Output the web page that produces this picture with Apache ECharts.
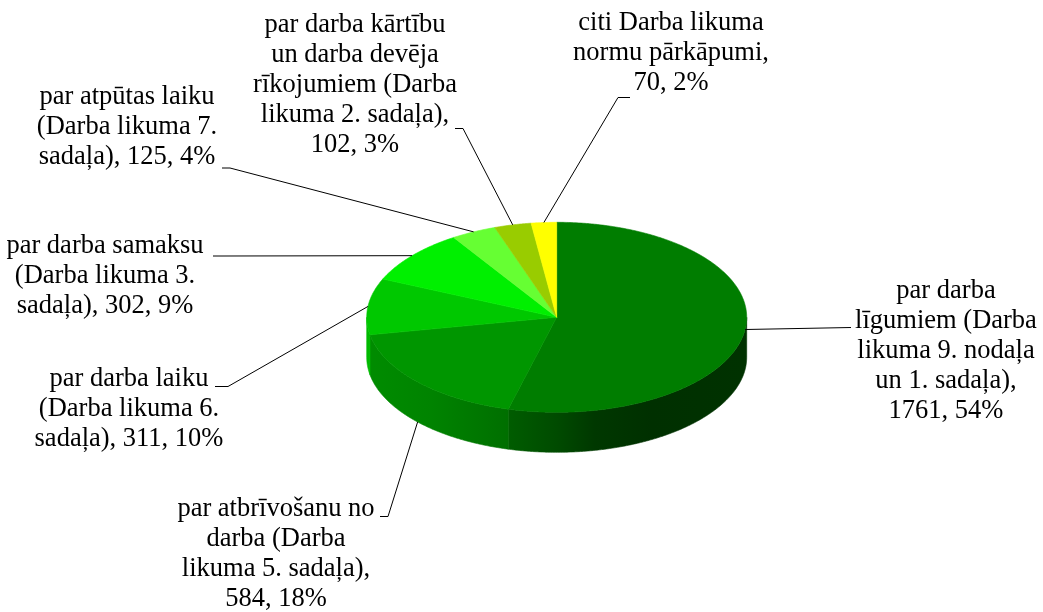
<!DOCTYPE html>
<html>
<head>
<meta charset="utf-8">
<script src="https://cdn.jsdelivr.net/npm/echarts@6/dist/echarts.min.js"></script>
<style>
html,body{margin:0;padding:0;background:#fff;}
#chart{width:1043px;height:612px;}
</style>
</head>
<body>
<div id="chart"></div>
<script>
// ---- data ----
const categories = [
  'par darba\nlīgumiem (Darba\nlikuma 9. nodaļa\nun 1. sadaļa)',
  'par atbrīvošanu no\ndarba (Darba\nlikuma 5. sadaļa)',
  'par darba laiku\n(Darba likuma 6.\nsadaļa)',
  'par darba samaksu\n(Darba likuma 3.\nsadaļa)',
  'par atpūtas laiku\n(Darba likuma 7.\nsadaļa)',
  'par darba kārtību\nun darba devēja\nrīkojumiem (Darba\nlikuma 2. sadaļa)',
  'citi Darba likuma\nnormu pārkāpumi'
];
const values = [1761, 584, 311, 302, 125, 102, 70];

// ---- styles / layout ----
const valueSeparators = [',\n', ',\n', ', ', ', ', ', ', ',\n', ',\n'];
const sliceColors = ['#007D00', '#009600', '#00C800', '#00F000', '#66FF33', '#99CC00', '#FFFF00'];
const PIE = { cx: 556.7, cy: 317.3, rx: 190, ry: 95, depth: 40 };
const labelBoxes = [[946, 276.5], [276, 494.5], [129, 364.5], [105, 231.5], [127, 82.5], [355, 10.5], [671, 8.5]]; // [centerX, topY]
const leaderEnds = [
  [[851, 327.5]],
  [[380, 516.5], [388, 516.5]],
  [[215, 386.5], [228, 386.5]],
  [[213, 256], [223, 256]],
  [[222, 168], [230, 168]],
  [[455, 128.5], [463, 128.5]],
  [[630, 97.5], [618, 97.5]]
];
const leaderAnchorOnBottom = [false, true, false, false, false, false, false];
const sideShade = [[0, 0.93], [0.17, 0.87], [0.37, 0.74], [0.5, 0.6], [0.6, 0.45], [0.75, 0.38], [1, 0.4]];
const LABEL_FONT = '26.5px "Liberation Serif", "Times New Roman", serif';

const total = values.reduce((a, b) => a + b, 0);
const starts = [];
(function () { let acc = 0; values.forEach(v => { starts.push(acc / total * 2 * Math.PI); acc += v; }); })();

function pt(t, dy) {
  return [PIE.cx + PIE.rx * Math.sin(t), PIE.cy - PIE.ry * Math.cos(t) + (dy || 0)];
}
function arc(a0, a1, dy) {
  const n = Math.max(2, Math.ceil((a1 - a0) / (Math.PI / 360)));
  const pts = [];
  for (let k = 0; k <= n; k++) pts.push(pt(a0 + (a1 - a0) * k / n, dy));
  return pts;
}
function hexToRgb(h) {
  return [parseInt(h.slice(1, 3), 16), parseInt(h.slice(3, 5), 16), parseInt(h.slice(5, 7), 16)];
}
function shade(h, f) {
  const c = hexToRgb(h).map(x => Math.max(0, Math.min(255, Math.round(x * f))));
  return 'rgb(' + c.join(',') + ')';
}

function renderItem(params, api) {
  const i = params.dataIndex;
  const v = api.value(0);
  const a0 = starts[i];
  const a1 = a0 + v / total * 2 * Math.PI;
  const base = sliceColors[i];
  const children = [];

  // side wall (front half only)
  const s0 = Math.max(a0, Math.PI / 2), s1 = Math.min(a1, 3 * Math.PI / 2);
  if (s1 > s0) {
    const grad = {
      type: 'linear', global: true,
      x: PIE.cx - PIE.rx, y: 0, x2: PIE.cx + PIE.rx, y2: 0,
      colorStops: sideShade.map(s => ({ offset: s[0], color: shade(base, s[1]) }))
    };
    const pts = arc(s0, s1, 0).concat(arc(s0, s1, PIE.depth).reverse());
    children.push({ type: 'polygon', z2: 1, shape: { points: pts }, style: { fill: grad, stroke: grad, lineWidth: 0.6 } });
  }

  // top face
  const topPts = [[PIE.cx, PIE.cy]].concat(arc(a0, a1, 0));
  children.push({ type: 'polygon', z2: 2, shape: { points: topPts }, style: { fill: base, stroke: base, lineWidth: 0.6, lineJoin: 'round' } });

  // leader line
  const mid = (a0 + a1) / 2;
  const anchor = pt(mid, leaderAnchorOnBottom[i] ? PIE.depth : 0);
  const linePts = leaderEnds[i].concat([anchor]);
  children.push({ type: 'polyline', z2: 5, shape: { points: linePts }, style: { stroke: '#000', lineWidth: 1, fill: null } });

  // label
  const pct = Math.round(v / total * 100);
  const txt = categories[i] + valueSeparators[i] + v + ', ' + pct + '%';
  children.push({
    type: 'text', z2: 6,
    style: {
      text: txt, x: labelBoxes[i][0], y: labelBoxes[i][1],
      align: 'center', verticalAlign: 'top',
      font: LABEL_FONT, lineHeight: 30, fill: '#000'
    }
  });

  return { type: 'group', children: children };
}

const chart = echarts.init(document.getElementById('chart'), null, { renderer: 'canvas' });
chart.setOption({
  animation: false,
  backgroundColor: '#ffffff',
  series: [{
    type: 'custom',
    coordinateSystem: 'none',
    silent: true,
    data: values.map((v, i) => ({ name: categories[i], value: v })),
    renderItem: renderItem
  }]
});
</script>
</body>
</html>
